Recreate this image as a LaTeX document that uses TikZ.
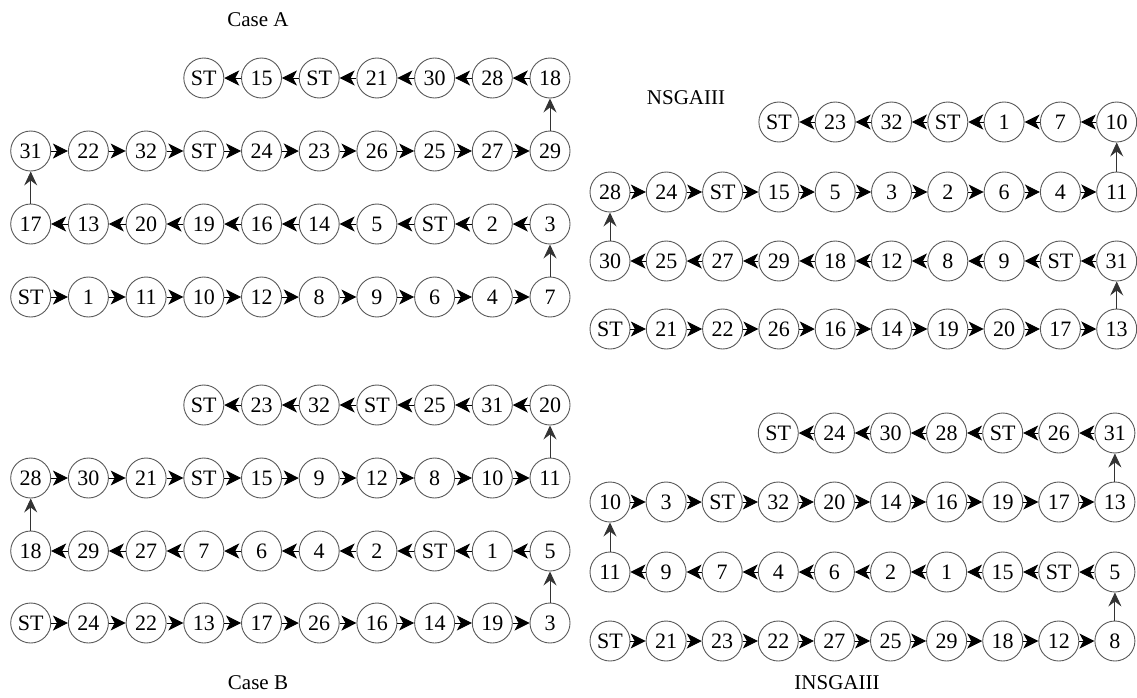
\documentclass[tikz,border=0pt]{standalone}
\usepackage{fontspec}
\setmainfont{Liberation Serif}
\usetikzlibrary{arrows.meta}

% \placerow{prefix}{x0}{dx}{y}{first column}{labels}
\newcommand\placerow[6]{%
  \foreach \t [count=\i from #5] in {#6}
    \node[nd] (#1-\i) at ({#2+\i*#3},#4) {\t};}
% rightward links in a row: \linkright{prefix}{first}{last-1}
\newcommand\linkright[3]{%
  \foreach \i [evaluate=\i as \j using int(\i+1)] in {#2,...,#3}
    \draw[hop] (#1-\i) -- (#1-\j);}
% leftward links in a row
\newcommand\linkleft[3]{%
  \foreach \i [evaluate=\i as \j using int(\i+1)] in {#2,...,#3}
    \draw[hop] (#1-\j) -- (#1-\i);}

\begin{document}
\begin{tikzpicture}[x=1pt,y=-1pt,
  nd/.style={circle,draw=black!65,line width=0.9pt,minimum size=40pt,
    inner sep=0pt,font=\fontsize{22}{24}\selectfont},
  hop/.style={-{Stealth[length=15pt,width=15pt,inset=4pt]},line width=0.9pt},
  lift/.style={-{Stealth[length=14pt,width=13pt,inset=5pt]},line width=0.9pt,
    draw=black!80},
  ttl/.style={font=\fontsize{21}{24}\selectfont}]
\useasboundingbox (0,0) rectangle (1137,697);

% ---------------- Case A ----------------
\node[ttl] (tA) at (258,20) {Case A};
\placerow{A1}{30.7}{57.7}{78}{3}{ST,15,ST,21,30,28,18}
\placerow{A2}{30.7}{57.7}{151}{0}{31,22,32,ST,24,23,26,25,27,29}
\placerow{A3}{30.7}{57.7}{224}{0}{17,13,20,19,16,14,5,ST,2,3}
\placerow{A4}{30.7}{57.7}{297}{0}{ST,1,11,10,12,8,9,6,4,7}
\linkleft{A1}{3}{8}
\linkright{A2}{0}{8}
\linkleft{A3}{0}{8}
\linkright{A4}{0}{8}
\draw[lift] (A4-9) -- (A3-9);
\draw[lift] (A3-0) -- (A2-0);
\draw[lift] (A2-9) -- (A1-9);

% ---------------- Case B ----------------
\node[ttl] (tB) at (258,683) {Case B};
\placerow{B1}{30.7}{57.7}{405}{3}{ST,23,32,ST,25,31,20}
\placerow{B2}{30.7}{57.7}{478}{0}{28,30,21,ST,15,9,12,8,10,11}
\placerow{B3}{30.7}{57.7}{551}{0}{18,29,27,7,6,4,2,ST,1,5}
\placerow{B4}{30.7}{57.7}{623}{0}{ST,24,22,13,17,26,16,14,19,3}
\linkleft{B1}{3}{8}
\linkright{B2}{0}{8}
\linkleft{B3}{0}{8}
\linkright{B4}{0}{8}
\draw[lift] (B4-9) -- (B3-9);
\draw[lift] (B3-0) -- (B2-0);
\draw[lift] (B2-9) -- (B1-9);

% ---------------- NSGAIII ----------------
\node[ttl] (tN) at (686,98) {NSGAIII};
\placerow{N1}{610}{56.3}{122}{3}{ST,23,32,ST,1,7,10}
\placerow{N2}{610}{56.3}{192}{0}{28,24,ST,15,5,3,2,6,4,11}
\placerow{N3}{610}{56.3}{261}{0}{30,25,27,29,18,12,8,9,ST,31}
\placerow{N4}{610}{56.3}{329}{0}{ST,21,22,26,16,14,19,20,17,13}
\linkleft{N1}{3}{8}
\linkright{N2}{0}{8}
\linkleft{N3}{0}{8}
\linkright{N4}{0}{8}
\draw[lift] (N4-9) -- (N3-9);
\draw[lift] (N3-0) -- (N2-0);
\draw[lift] (N2-9) -- (N1-9);

% ---------------- INSGAIII ----------------
\node[ttl] (tI) at (837,683) {INSGAIII};
\placerow{I1}{610}{56.1}{433}{3}{ST,24,30,28,ST,26,31}
\placerow{I2}{610}{56.1}{502}{0}{10,3,ST,32,20,14,16,19,17,13}
\placerow{I3}{610}{56.1}{572}{0}{11,9,7,4,6,2,1,15,ST,5}
\placerow{I4}{610}{56.1}{641}{0}{ST,21,23,22,27,25,29,18,12,8}
\linkleft{I1}{3}{8}
\linkright{I2}{0}{8}
\linkleft{I3}{0}{8}
\linkright{I4}{0}{8}
\draw[lift] (I4-9) -- (I3-9);
\draw[lift] (I3-0) -- (I2-0);
\draw[lift] (I2-9) -- (I1-9);
\end{tikzpicture}
\end{document}
